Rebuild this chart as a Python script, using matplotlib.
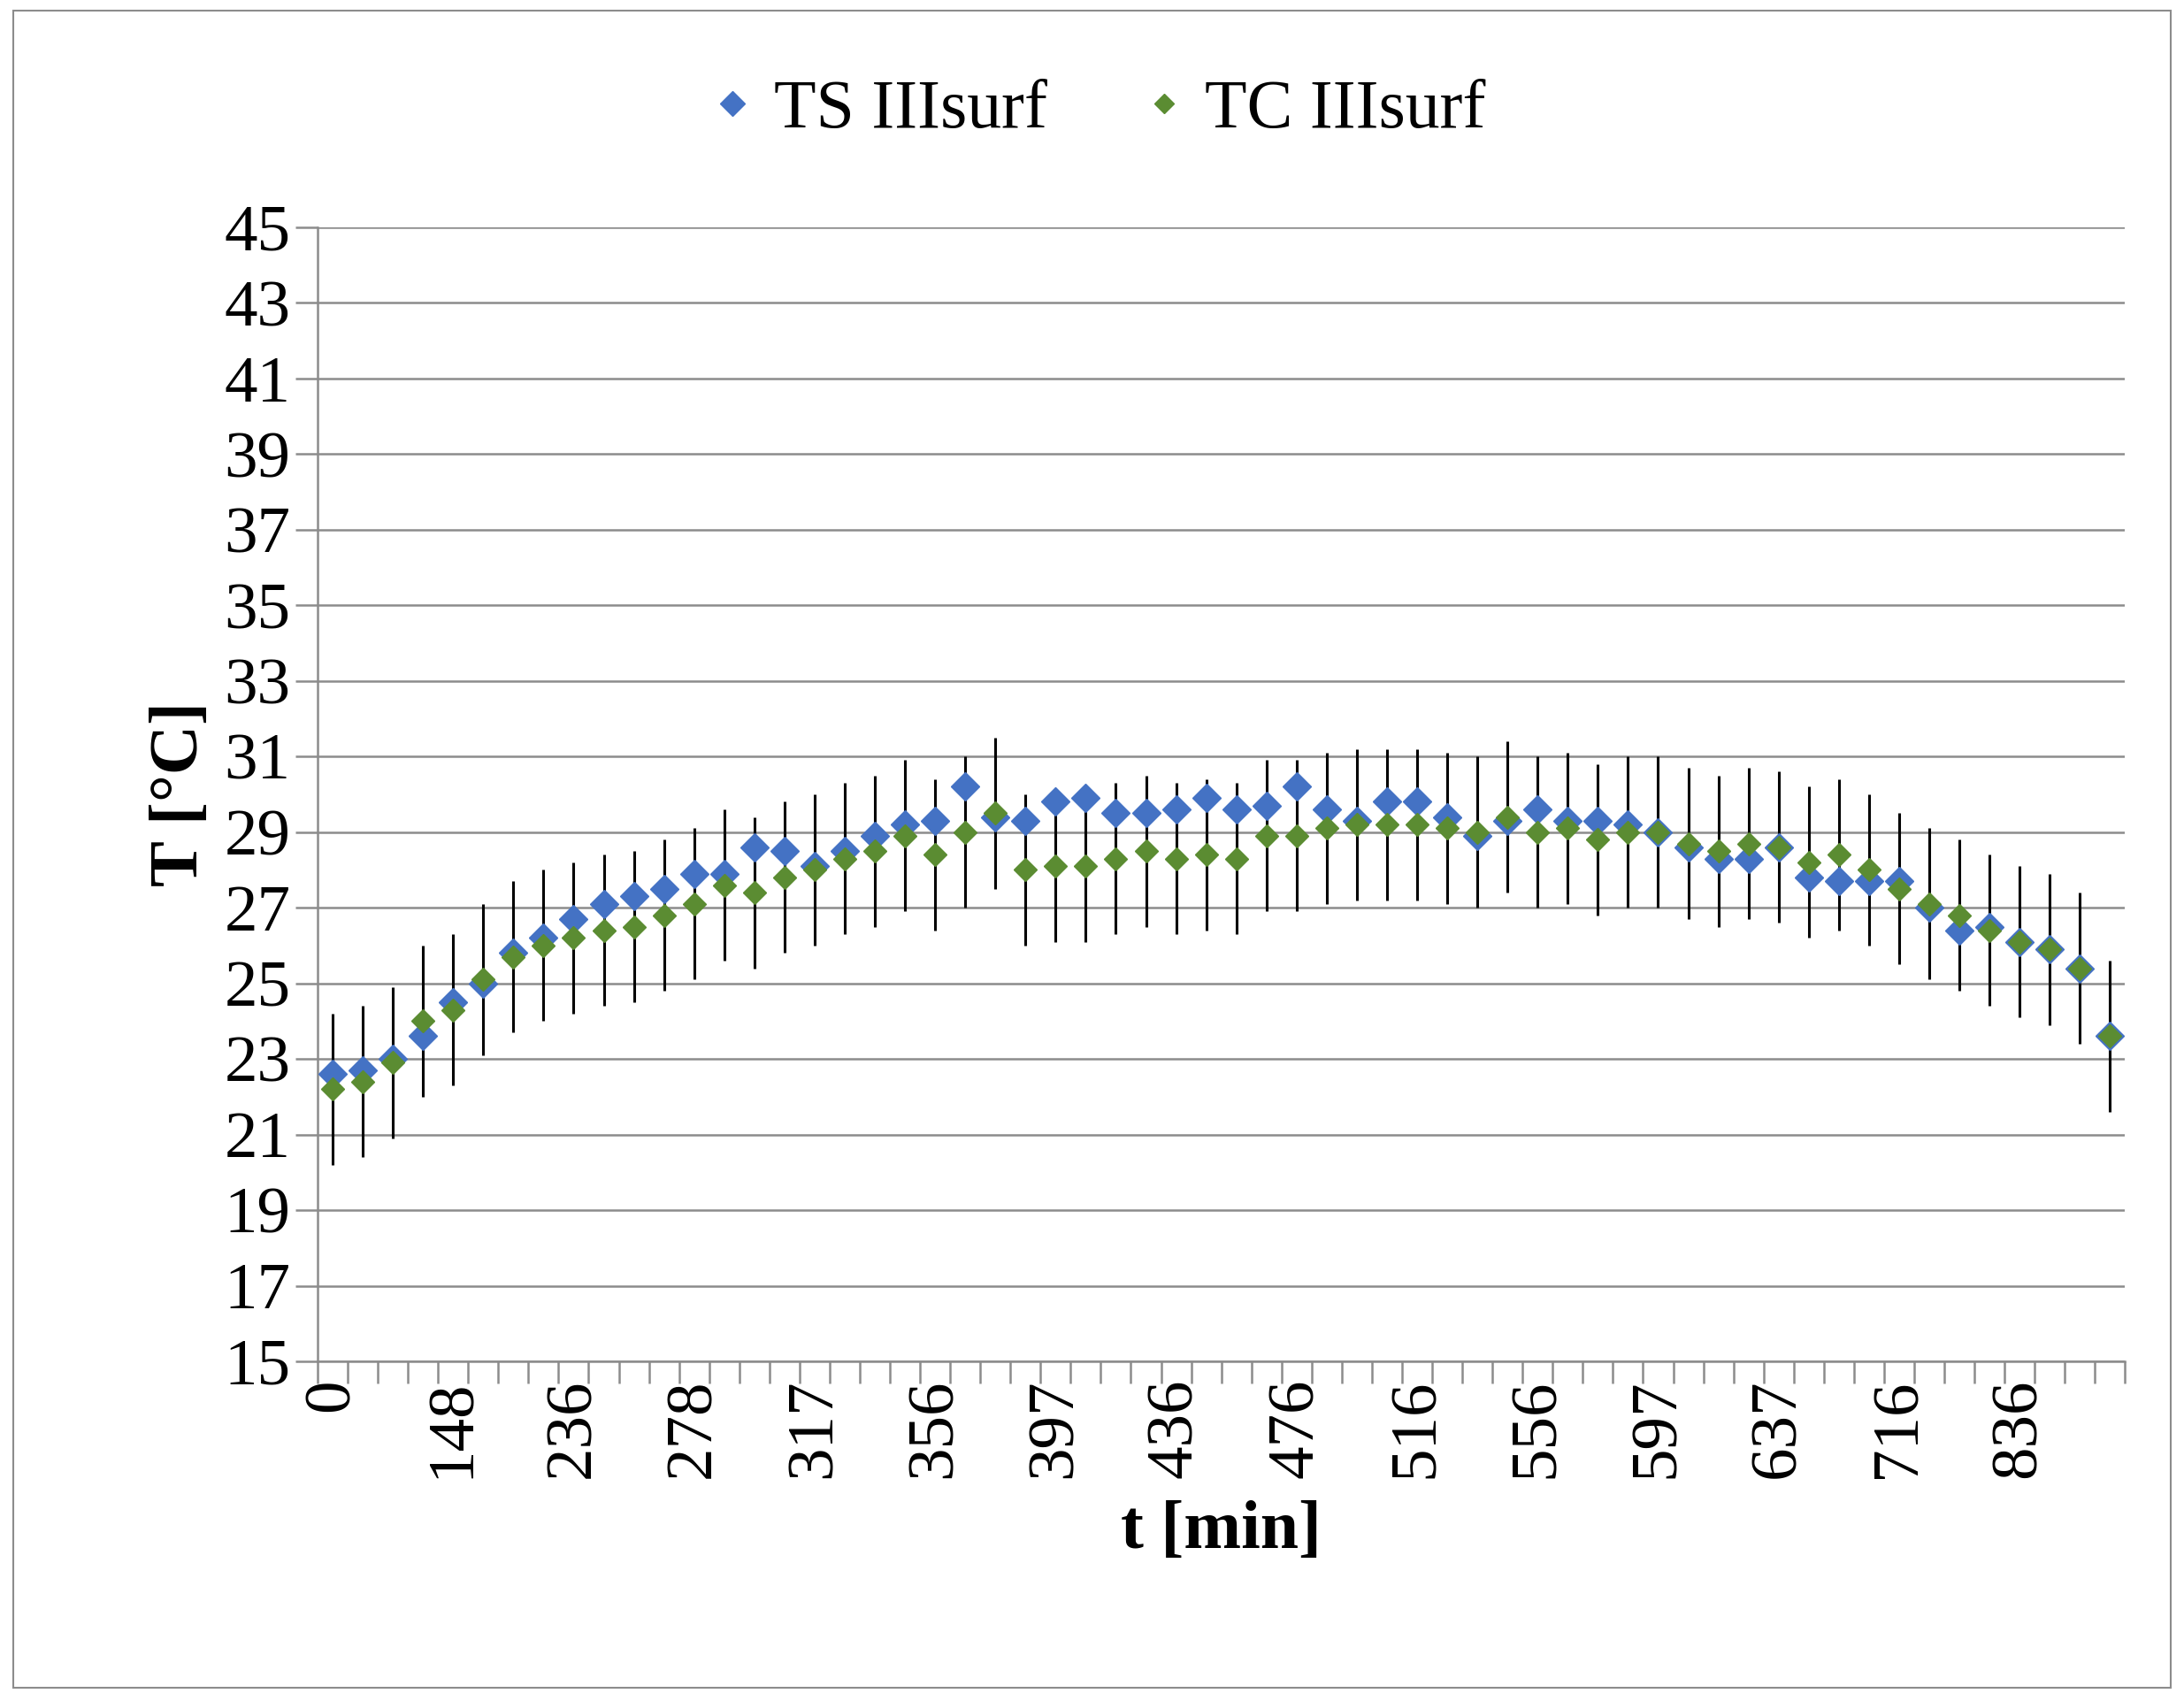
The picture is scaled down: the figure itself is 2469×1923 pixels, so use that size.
import matplotlib
matplotlib.use("Agg")
import matplotlib.pyplot as plt
import numpy as np

tick_labels = ["0", "148", "236", "278", "317", "356", "397", "436", "476",
               "516", "556", "597", "637", "716", "836"]
ts = [22.6, 22.7, 23.0, 23.6, 24.5, 25.0, 25.8, 26.2, 26.7, 27.1, 27.3, 27.5,
      27.9, 27.9, 28.6, 28.5, 28.1, 28.5, 28.9, 29.2, 29.3, 30.2, 29.4, 29.3,
      29.8, 29.9, 29.5, 29.5, 29.6, 29.9, 29.6, 29.7, 30.2, 29.6, 29.3, 29.8,
      29.8, 29.4, 28.9, 29.3, 29.6, 29.3, 29.3, 29.2, 29.0, 28.6, 28.3, 28.3,
      28.6, 27.8, 27.7, 27.7, 27.7, 27.0, 26.4, 26.5, 26.1, 25.9, 25.4, 23.6]
tc = [22.2, 22.4, 22.9, 24.0, 24.3, 25.1, 25.7, 26.0, 26.2, 26.4, 26.5, 26.8,
      27.1, 27.6, 27.4, 27.8, 28.0, 28.3, 28.5, 28.9, 28.4, 29.0, 29.5, 28.0,
      28.1, 28.1, 28.3, 28.5, 28.3, 28.4, 28.3, 28.9, 28.9, 29.1, 29.2, 29.2,
      29.2, 29.1, 29.0, 29.4, 29.0, 29.1, 28.8, 29.0, 29.0, 28.7, 28.5, 28.7,
      28.6, 28.2, 28.4, 28.0, 27.5, 27.1, 26.8, 26.4, 26.1, 25.9, 25.4, 23.6]
tc_err = [2.0] * len(tc)

serif = ["Liberation Serif", "DejaVu Serif"]
plt.rcParams['font.family'] = serif

fig = plt.figure(figsize=(24.69, 19.23), dpi=100)
fig.patches.append(plt.Rectangle((0.006, 0.008), 0.988, 0.986, transform=fig.transFigure,
                                 fill=False, edgecolor="#8c8c8c", lw=1.5))
ax = fig.add_axes([0.1454, 0.1997, 0.8276, 0.6667])
x = np.arange(len(ts))
ax.errorbar(x, tc, yerr=tc_err, fmt="none", ecolor="black", elinewidth=2.2, zorder=2)
ax.plot(x, ts, "D", color="#4472C4", ms=16, ls="none", label="TS IIIsurf", zorder=3)
ax.plot(x, tc, "D", color="#5B8C32", ms=13, ls="none", label="TC IIIsurf", zorder=4)

ax.set_xlim(-0.5, len(ts) - 0.5)
ax.set_ylim(15, 45)
ax.set_yticks(np.arange(15, 46, 2))
ax.yaxis.grid(True, color="#8c8c8c", lw=1.8)
ax.set_axisbelow(True)
ax.set_xticks(np.arange(0, len(ts), 4))
ax.set_xticklabels(tick_labels, rotation=90)
ax.set_xticks(np.arange(-0.5, len(ts), 1), minor=True)
ax.tick_params(axis="x", which="major", length=0, labelsize=54, pad=14)
ax.tick_params(axis="x", which="minor", length=18, width=1.8, color="#8c8c8c")
ax.tick_params(axis="y", length=18, width=1.8, color="#8c8c8c", labelsize=54, pad=4)
for s in ["top", "right"]:
    ax.spines[s].set_visible(False)
ax.spines["left"].set_color("#8c8c8c"); ax.spines["left"].set_linewidth(1.8)
ax.spines["bottom"].set_color("#8c8c8c"); ax.spines["bottom"].set_linewidth(1.8)
ax.set_xlabel("t [min]", fontsize=56, fontweight="bold", labelpad=18)
ax.set_ylabel("T [°C]", fontsize=56, fontweight="bold", labelpad=10)
fig.legend(loc="upper center", bbox_to_anchor=(0.5, 0.99), ncol=2, frameon=False,
           fontsize=56, handletextpad=0.1, columnspacing=1.2, markerscale=0.9,
           handlelength=1.0)
fig.savefig("out.png", dpi=100)
